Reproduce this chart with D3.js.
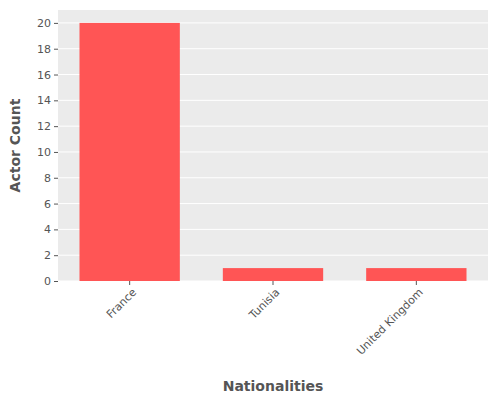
<!DOCTYPE html>
<html><head><meta charset="utf-8">
<script src="https://cdn.jsdelivr.net/npm/d3@7"></script>
<style>body{margin:0;background:#fff;font-family:"DejaVu Sans",sans-serif}</style>
</head><body><div id="chart"></div>
<script>
var nationalities = ["France", "Tunisia", "United Kingdom"];
var actorCounts = [20, 1, 1];
var yTicks = [0, 2, 4, 6, 8, 10, 12, 14, 16, 18, 20];

var margin = {top: 10, right: 12, bottom: 119, left: 58};
var width = 500 - margin.left - margin.right;
var height = 400 - margin.top - margin.bottom;

var svg = d3.select("#chart").append("svg").attr("width", 500).attr("height", 400)
  .append("g").attr("transform", "translate(" + margin.left + "," + margin.top + ")");

svg.append("rect").attr("width", width).attr("height", height).attr("fill", "#ebebeb");

var x = d3.scaleBand().domain(nationalities).range([0, width]).paddingInner(0.3).paddingOuter(0.15);
var y = d3.scaleLinear().domain([0, 21]).range([height, 0]);

// grid
svg.selectAll(".grid").data(yTicks).join("line")
  .attr("x1", 0).attr("x2", width).attr("y1", d=>y(d)).attr("y2", d=>y(d))
  .attr("stroke", "#fff").attr("stroke-width", 1);

svg.selectAll(".bar").data(nationalities).join("rect")
  .attr("x", d=>x(d)).attr("width", x.bandwidth())
  .attr("y", (d, i)=>y(actorCounts[i])).attr("height", (d, i)=>height - y(actorCounts[i]))
  .attr("fill", "#ff5555");

var yAxis = svg.append("g").call(d3.axisLeft(y).tickValues(yTicks).tickSize(4).tickSizeOuter(0));
var xAxis = svg.append("g").attr("transform", "translate(0," + height + ")")
  .call(d3.axisBottom(x).tickSize(4).tickSizeOuter(0));
[yAxis, xAxis].forEach(a=>{
  a.select(".domain").remove();
  a.selectAll(".tick line").attr("stroke", "#555");
  a.selectAll("text").attr("fill", "#555").style("font-size", "11px").style("font-family", "DejaVu Sans");
});
xAxis.selectAll("text").attr("text-anchor", "end").attr("dx", "-0.3em").attr("dy", "0.6em")
  .attr("transform", "rotate(-45)");

svg.append("text").attr("transform", "rotate(-90)").attr("x", -height / 2).attr("y", -38)
  .attr("text-anchor", "middle").attr("fill", "#555").style("font-size", "14px").style("font-weight", "bold")
  .text("Actor Count");
svg.append("text").attr("x", width / 2).attr("y", 381)
  .attr("text-anchor", "middle").attr("fill", "#555").style("font-size", "14px").style("font-weight", "bold")
  .text("Nationalities");
</script></body></html>
